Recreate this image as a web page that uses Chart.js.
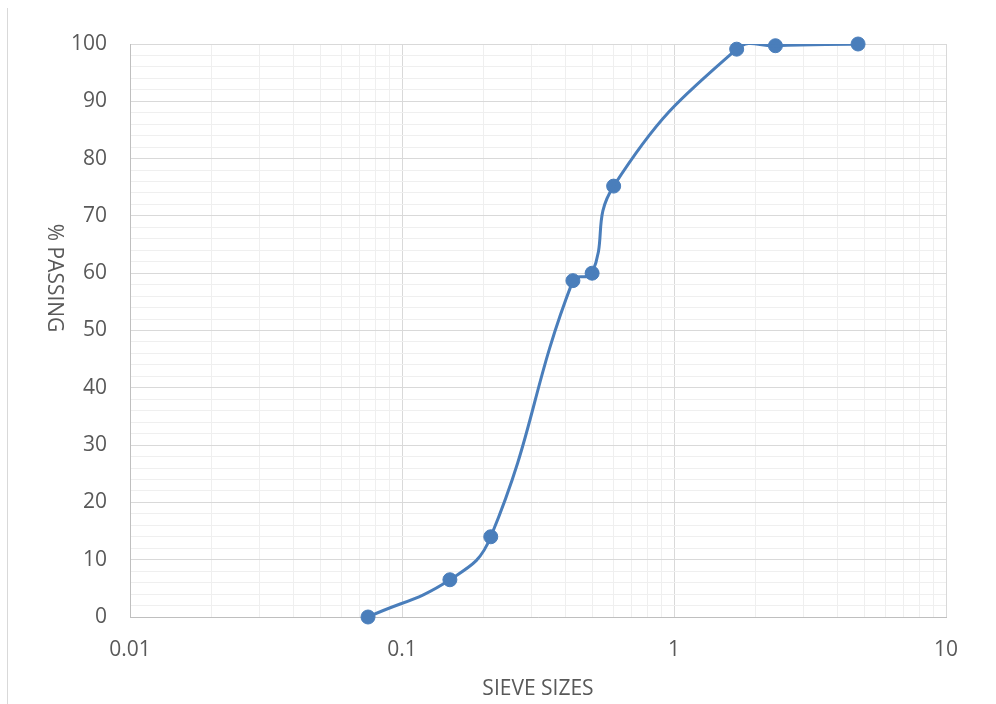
<!DOCTYPE html>
<html>
<head>
<meta charset="utf-8">
<script src="https://cdn.jsdelivr.net/npm/chart.js@4/dist/chart.umd.min.js"></script>
<style>
  html, body { margin: 0; padding: 0; background: #fff; }
  #wrap { position: relative; width: 996px; height: 704px; }
  #edge { position: absolute; left: 7px; top: 8px; bottom: 0; width: 1px; background: #d9d9d9; }
</style>
</head>
<body>
<div id="wrap">
  <div id="edge"></div>
  <canvas id="chart" width="996" height="704"></canvas>
</div>
<script>
  // Sieve analysis data
  const sieveSizes = [0.075, 0.15, 0.212, 0.425, 0.5, 0.6, 1.7, 2.36, 4.75];
  const percentPassing = [0, 6.5, 14.0, 58.7, 60.0, 75.2, 99.1, 99.7, 100];

  // Log axis grid values (1..9 per decade) and the labelled decades
  const xGridValues = [0.01, 0.02, 0.03, 0.04, 0.05, 0.06, 0.07, 0.08, 0.09,
                       0.1, 0.2, 0.3, 0.4, 0.5, 0.6, 0.7, 0.8, 0.9,
                       1, 2, 3, 4, 5, 6, 7, 8, 9, 10];
  const xLabels = ['0.01', '0.1', '1', '10'];
  const yTitle = '% PASSING';
  const xTitle = 'SIEVE SIZES';

  const points = sieveSizes.map((x, i) => ({ x: x, y: percentPassing[i] }));
  const blue = '#4a7ebb';
  const textCol = '#595959';
  const font = { family: 'Open Sans', size: 21 };

  const isDecade = v => xLabels.some(l => Math.abs(parseFloat(l) - v) < 1e-9);

  // Y title reads top-to-bottom (rotated clockwise), like the original
  const yTitlePlugin = {
    id: 'yTitle',
    afterDraw(chart) {
      const ctx = chart.ctx;
      ctx.save();
      ctx.translate(54, 278);
      ctx.rotate(Math.PI / 2);
      ctx.font = font.size + 'px "' + font.family + '"';
      ctx.fillStyle = textCol;
      ctx.textAlign = 'center';
      ctx.textBaseline = 'middle';
      ctx.fillText(yTitle, 0, 0);
      ctx.restore();
    }
  };

  new Chart(document.getElementById('chart'), {
    type: 'scatter',
    data: {
      datasets: [
        // smoothed curve, clipped to the plot area
        { data: points, showLine: true, borderColor: blue, borderWidth: 3, tension: 0.45,
          pointRadius: 0, clip: 0 },
        // markers, not clipped
        { data: points, showLine: false, backgroundColor: blue, borderColor: blue,
          pointRadius: 7, pointHoverRadius: 7, clip: false }
      ]
    },
    plugins: [yTitlePlugin],
    options: {
      responsive: false,
      animation: false,
      elements: { line: { capBezierPoints: false } },
      layout: { padding: { left: 40, top: 44, right: 50, bottom: 0 } },
      plugins: { legend: { display: false }, tooltip: { enabled: false } },
      scales: {
        x: {
          type: 'logarithmic',
          min: 0.01, max: 10,
          afterBuildTicks: s => { s.ticks = xGridValues.map(v => ({ value: v, major: isDecade(v) })); },
          afterFit: s => { s.height = 87; },
          border: { color: '#bfbfbf', width: 1 },
          grid: {
            drawTicks: false,
            color: c => (c.tick && isDecade(c.tick.value)) ? '#d9d9d9' : '#efefef',
            lineWidth: 1
          },
          ticks: {
            autoSkip: false, maxRotation: 0, padding: 20, color: textCol, font: font,
            callback: v => isDecade(v) ? String(v) : ''
          },
          title: { display: true, text: xTitle, color: textCol, font: font, padding: { top: 0, bottom: 2 } }
        },
        y: {
          min: 0, max: 100,
          afterFit: s => { s.width = 90; },
          border: { color: '#bfbfbf', width: 1 },
          grid: {
            drawTicks: false,
            color: c => (c.tick && c.tick.value % 10 === 0) ? '#d9d9d9' : '#efefef',
            lineWidth: 1
          },
          ticks: {
            stepSize: 2, autoSkip: false, padding: 23, color: textCol, font: font,
            callback: v => v % 10 === 0 ? String(v) : ''
          }
        }
      }
    }
  });
</script>
</body>
</html>
